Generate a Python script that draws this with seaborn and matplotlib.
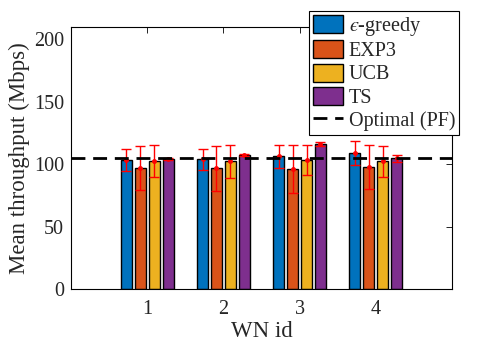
import matplotlib
matplotlib.use('Agg')
import matplotlib.pyplot as plt
import seaborn as sns
import pandas as pd
import numpy as np

# data
wn_ids = ['1', '2', '3', '4']
algorithms = ['$\u03f5$-greedy', 'EXP3', 'UCB', 'TS']
mean_eps = [103.3, 104.1, 106.5, 108.9]
mean_exp3 = [96.9, 96.9, 96.1, 97.7]
mean_ucb = [102.5, 102.5, 103.3, 102.5]
mean_ts = [104.1, 107.5, 116.1, 104.9]
std_eps = [8.7, 8.3, 9.1, 9.5]
std_exp3 = [17.6, 18.0, 19.2, 17.7]
std_ucb = [12.8, 13.2, 12.1, 12.5]
std_ts = [0.8, 1.0, 1.7, 2.8]
optimal_pf = 105.4
colors = ['#0072BD', '#D95319', '#EDB120', '#7E2F8E']

means = [mean_eps, mean_exp3, mean_ucb, mean_ts]
stds = [std_eps, std_exp3, std_ucb, std_ts]
df = pd.DataFrame({
    'WN id': wn_ids * len(algorithms),
    'alg': np.repeat(algorithms, len(wn_ids)),
    'val': np.concatenate(means),
})

sns.set_style('white')
plt.rcParams['font.family'] = ['Liberation Serif', 'DejaVu Serif']
plt.rcParams['mathtext.fontset'] = 'stix'

fig = plt.figure(figsize=(5, 3.5), dpi=100)
ax = fig.add_axes([0.142, 0.174, 0.762, 0.749])

sns.barplot(data=df, x='WN id', y='val', hue='alg', palette=colors,
            errorbar=None, width=0.73, gap=0.21, edgecolor='black',
            linewidth=1.0, saturation=1, ax=ax)

# error bars on top of every bar
bars = list(ax.containers)
for cont, sd in zip(bars, stds):
    xs = [b.get_x() + b.get_width() / 2 for b in cont]
    ys = [b.get_height() for b in cont]
    ax.errorbar(xs, ys, yerr=sd, fmt='o', color='red', ms=2.5,
                capsize=3.5, elinewidth=1.0, capthick=1.0, zorder=5)

ax.axhline(optimal_pf, color='black', ls=(0, (5, 2.8)), lw=2,
           label='Optimal (PF)', zorder=6)

ax.set_xlim(-1, 4)
ax.set_ylim(0, 210)
ax.set_yticks([0, 50, 100, 150, 200])
ax.set_xlabel('WN id', fontsize=16.5, labelpad=1)
ax.set_ylabel('Mean throughput (Mbps)', fontsize=16.5, labelpad=3)
ax.tick_params(direction='in', labelsize=14.5, length=4, width=0.6,
               top=True, right=True, color='black', labelcolor='#262626',
               pad=5)
ax.tick_params(axis='x', pad=8)
for s in ax.spines.values():
    s.set_color('black')
    s.set_linewidth(0.8)

h, l = ax.get_legend_handles_labels()
ax.legend_.remove()
leg = fig.legend(h, l, loc='upper right', bbox_to_anchor=(0.918, 0.968),
                 fontsize=14.5, frameon=True, fancybox=False, framealpha=1,
                 edgecolor='black', handlelength=1.5, handleheight=1.0,
                 handletextpad=0.3, labelspacing=0.12, borderpad=0.18,
                 borderaxespad=0)
leg.get_frame().set_linewidth(0.8)

fig.savefig('out.png', dpi=100)
